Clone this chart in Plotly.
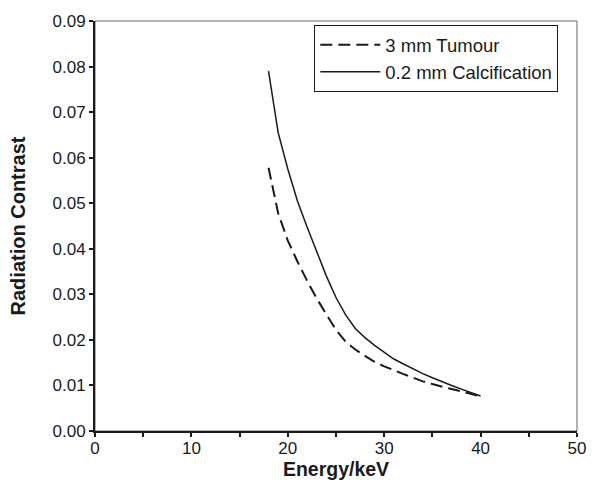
import plotly.graph_objects as go

energy = [18, 19, 20, 21, 22, 23, 24, 25, 26, 27, 28, 29, 30, 31, 32, 33, 34, 35, 36, 37, 38, 39, 40]
tumour = [0.0578, 0.0478, 0.0418, 0.0372, 0.0330, 0.0291, 0.0256, 0.0222, 0.0196, 0.0179, 0.0165, 0.0152,
          0.0142, 0.0133, 0.0125, 0.0117, 0.0109, 0.0103, 0.0097, 0.0092, 0.0087, 0.0082, 0.0076]
calcification = [0.0790, 0.0655, 0.0575, 0.0505, 0.0448, 0.0392, 0.0340, 0.0293, 0.0255, 0.0225, 0.0205,
                 0.0188, 0.0172, 0.0158, 0.0147, 0.0136, 0.0126, 0.0117, 0.0108, 0.0100, 0.0092, 0.0084, 0.0077]
series_names = ["3 mm Tumour", "0.2 mm Calcification"]
x_ticks = [0, 10, 20, 30, 40, 50]
y_ticks = [0.00, 0.01, 0.02, 0.03, 0.04, 0.05, 0.06, 0.07, 0.08, 0.09]

FONT = "Liberation Sans, Arial, sans-serif"

fig = go.Figure()
fig.add_trace(go.Scatter(x=energy, y=tumour, mode="lines", name=series_names[0],
                         line=dict(color="#1a1a1a", width=2, dash="12px,6px")))
fig.add_trace(go.Scatter(x=energy, y=calcification, mode="lines", name=series_names[1],
                         line=dict(color="#1a1a1a", width=1.5)))

fig.add_shape(type="rect", xref="paper", yref="paper", x0=0, y0=0, x1=1, y1=1,
              line=dict(color="#666666", width=1), layer="below")

fig.update_layout(
    width=598, height=492, autosize=False,
    margin=dict(l=95, r=20, t=14, b=61, pad=0),
    paper_bgcolor="white", plot_bgcolor="white",
    font=dict(family=FONT, size=17, color="#1a1a1a"),
    showlegend=True,
    legend=dict(x=0.455, y=0.99, xanchor="left", yanchor="top",
                bordercolor="#1a1a1a", borderwidth=1, bgcolor="white",
                font=dict(family=FONT, size=18.5, color="#1a1a1a"),
                itemwidth=60, tracegroupgap=0),
    xaxis=dict(range=[0, 50], tickvals=x_ticks, ticks="outside", ticklen=4, tickwidth=1.5,
               tickcolor="#1a1a1a", showline=True, linecolor="#1a1a1a", linewidth=2,
               showgrid=False, zeroline=False, ticklabelstandoff=-3,
               minor=dict(dtick=5, ticks="outside", ticklen=4, tickwidth=1.5, tickcolor="#1a1a1a", showgrid=False),
               tickfont=dict(family=FONT, size=17),
               title=dict(text="<b>Energy/keV</b>", font=dict(family=FONT, size=19.5), standoff=4)),
    yaxis=dict(range=[0, 0.09], tickvals=y_ticks, tickformat=".2f", ticks="outside", ticklen=4,
               tickwidth=1.5, tickcolor="#1a1a1a", showline=True, linecolor="#1a1a1a", linewidth=2,
               showgrid=False, zeroline=False,
               tickfont=dict(family=FONT, size=17),
               title=dict(text="<b>Radiation Contrast</b>", font=dict(family=FONT, size=20), standoff=22)),
)

fig.write_html("out.html", config={"displayModeBar": False},
               post_script="document.body.style.margin='0';")
